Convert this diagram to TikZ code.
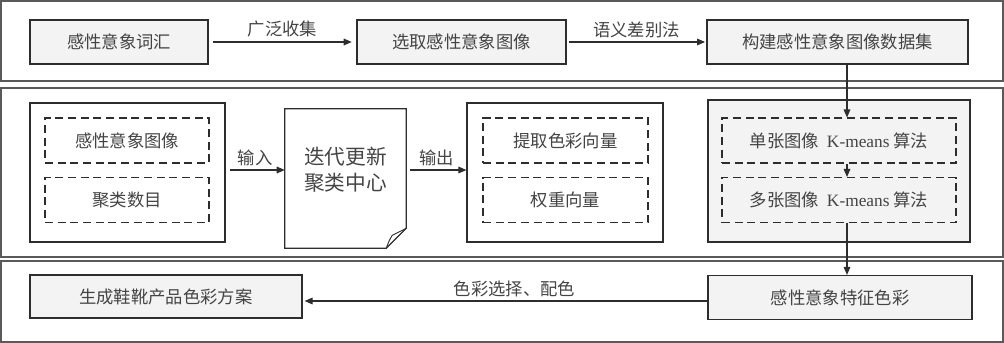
\documentclass[tikz,border=0pt]{standalone}
\usepackage{fontspec}
\setmainfont{Noto Sans CJK SC}
\newfontfamily\latinfont{Liberation Serif}
\usetikzlibrary{arrows.meta,calc}
\definecolor{ink}{RGB}{45,45,45}
\definecolor{txt}{RGB}{68,68,68}
\definecolor{shade}{RGB}{242,243,242}
\definecolor{frame}{RGB}{90,90,90}
\tikzset{
  panel/.style={draw=frame, line width=1.3pt},
  graybox/.style={draw=ink, line width=0.9pt, fill=shade, text=txt,
              inner sep=2pt, align=center, minimum height=33pt},
  whitebox/.style={draw=ink, line width=0.9pt, fill=white, inner sep=0pt},
  dashbox/.style={draw=ink, line width=0.8pt, dash pattern=on 6pt off 3.5pt,
              text=txt, align=center, minimum height=33.75pt},
  flow/.style={-{Triangle[length=6pt,width=5pt]}, ink, line width=0.8pt},
  lbl/.style={text=txt, inner sep=3pt},
}

\begin{document}
\begin{tikzpicture}[x=0.75pt,y=-0.75pt,font=\fontsize{13}{15}\selectfont]
        \useasboundingbox (0,0) rectangle (1004,343);
        % three bands
        \draw[panel] (1,1) rectangle (1003,81);
        \draw[panel] (1,88) rectangle (1003,257);
        \draw[panel] (1,261) rectangle (1003,342);
        \coordinate (spine) at (847,0);
        % top band
        \node[graybox,minimum width=133.5pt] (words) at (119,42) {感性意象词汇};
        \node[graybox,minimum width=156.75pt] (pick) at (461.5,42) {选取感性意象图像};
        \node[graybox,minimum width=195.75pt] (dataset) at (837.5,42) {构建感性意象图像数据集};
        \draw[flow,shorten <=3.5pt,shorten >=3.5pt] (words.east) -- node[lbl,above] {广泛收集} (pick.west);
        \draw[flow,shorten <=2pt,shorten >=1pt] (pick.east) -- node[lbl,above] {语义差别法} (dataset.west);
        % middle band
        \node[whitebox,minimum width=146.25pt,minimum height=104.25pt] (inbox) at (127.5,172.5) {};
        \node[dashbox,minimum width=123pt] (img) at (127,140.5) {感性意象图像};
        \node[dashbox,minimum width=123pt] (num) at (127,200) {聚类数目};
        \node[minimum width=90.75pt,minimum height=104.25pt,inner sep=0pt] (doc) at (345.5,178.5) {};
        \draw[ink,line width=0.9pt] (doc.north west) -- (doc.north east)
              -- ($(doc.south east)+(0,-20)$) -- ($(doc.south east)+(-20,0)$)
              -- (doc.south west) -- cycle;
        \draw[ink,line width=0.7pt] ($(doc.south east)+(-20,0)$)
              .. controls ($(doc.south east)+(-17,-8)$) .. ($(doc.south east)+(-14,-13)$)
              -- ($(doc.south east)+(0,-20)$);
        \node[text=txt,align=center,font=\fontsize{15.5}{19.5}\selectfont] (doctext) at (345.5,170) {迭代更新\\聚类中心};
        \node[whitebox,minimum width=147pt,minimum height=104.25pt] (outbox) at (565,172.5) {};
        \node[dashbox,minimum width=123.75pt] (colvec) at (565.5,140.5) {提取色彩向量};
        \node[dashbox,minimum width=123.75pt] (wvec) at (565.5,200) {权重向量};
        \draw[flow,shorten <=3.5pt] (inbox.east |- 0,170) -- node[lbl,above] {输入} (doc.west |- 0,170);
        \draw[flow,shorten <=3pt] (doc.east |- 0,170) -- node[lbl,above] {输出} (outbox.west |- 0,170);
        \node[graybox,minimum width=196.5pt,minimum height=106.5pt] (kbox) at (839,171) {};
        \node[dashbox,minimum width=175.5pt] (single) at (839,140.5) {单张图像~~{\latinfont K-means} 算法};
        \node[dashbox,minimum width=175.5pt] (multi) at (839,200) {多张图像~~{\latinfont K-means} 算法};
        \draw[flow] (dataset.south -| spine) -- (single.north -| spine);
        \draw[flow] (single.south -| spine) -- (multi.north -| spine);
        % bottom band
        \node[graybox,minimum width=204pt,minimum height=32.25pt] (scheme) at (166,296.5) {生成鞋靴产品色彩方案};
        \node[graybox,minimum width=198pt] (feature) at (840,297.5) {感性意象特征色彩};
        \draw[flow] (multi.south -| spine) -- (feature.north -| spine);
        \draw[flow,shorten >=1.5pt] (feature.west |- 0,301) -- node[lbl,above,xshift=7pt] {色彩选择、配色} (scheme.east |- 0,301);
      \end{tikzpicture}
\end{document}
